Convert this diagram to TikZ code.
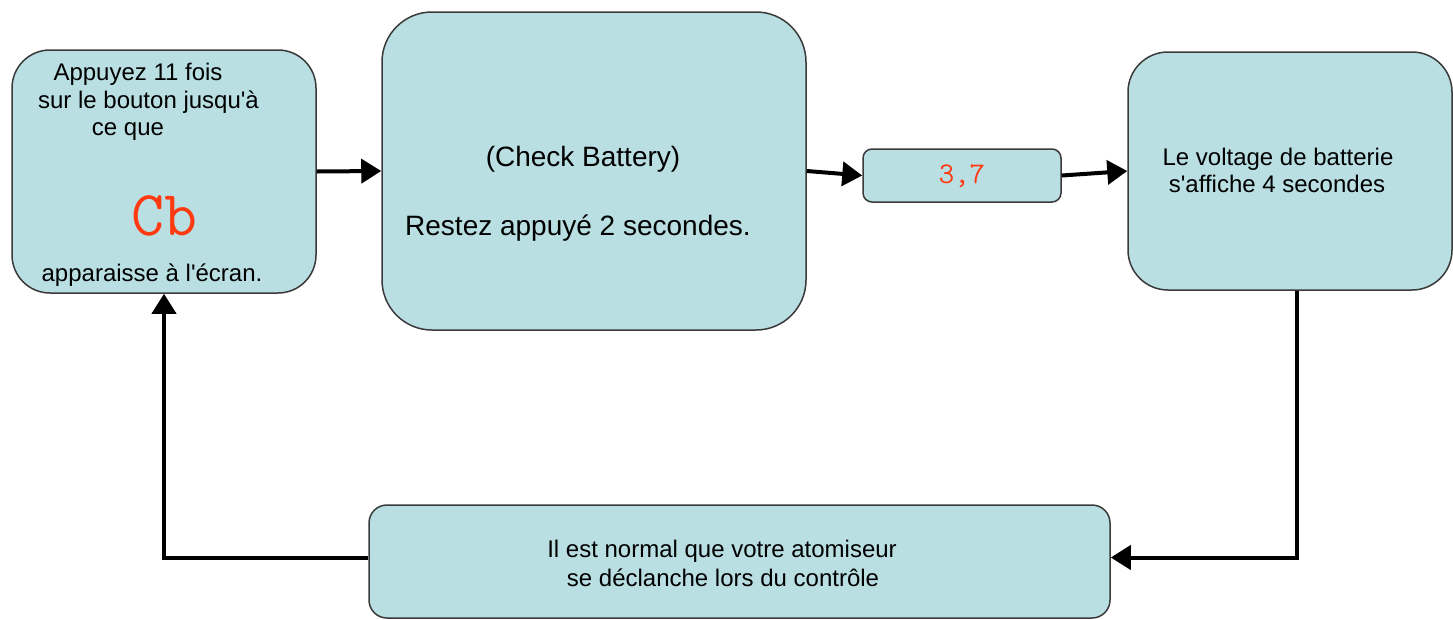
\documentclass[tikz,border=0pt]{standalone}
\usepackage{fontspec}
\setmainfont{Liberation Sans}
\usetikzlibrary{arrows.meta}
\definecolor{boxfill}{HTML}{B9DFE3}
\definecolor{boxline}{HTML}{3A3A3A}
\definecolor{redtxt}{HTML}{FF3A10}
\newcommand{\sq}{\XeTeXglyph\XeTeXglyphindex "quotesingle"\relax}
\begin{document}
\begin{tikzpicture}[x=1pt,y=-1pt,
  box/.style={draw=boxline, line width=1.5pt, fill=boxfill, inner sep=0pt},
  txt/.style={anchor=base, inner sep=0pt, font=\fontsize{24}{28}\selectfont},
  bigtxt/.style={anchor=base, inner sep=0pt, font=\fontsize{28}{32}\selectfont},
  arr/.style={line width=4pt, -{Triangle[length=20pt,width=24pt]}}]
\useasboundingbox (0,0) rectangle (1453,619);
% boxes
\node[box, rounded corners=38pt, minimum width=304pt, minimum height=243pt] (A) at (164,171.5) {};
\node[box, rounded corners=50pt, minimum width=424pt, minimum height=318pt] (B) at (594,171) {};
\node[box, rounded corners=9pt, minimum width=198pt, minimum height=53pt] (C) at (962,175.5) {};
\node[box, rounded corners=40pt, minimum width=324pt, minimum height=238pt] (D) at (1290,171) {};
\node[box, rounded corners=18pt, minimum width=741pt, minimum height=113pt] (E) at (739.5,561.5) {};
% texts
\node[txt] (a1) at (138,80) {Appuyez 11 fois};
\node[txt] (a2) at (148.5,108) {sur le bouton jusqu\sq à};
\node[txt] (a3) at (128,135) {ce que};
\node[anchor=base, inner sep=0pt, text=redtxt, font=\ttfamily\fontsize{64}{68}\selectfont] (a4) at (164,235) {Cb};
\node[txt] (a5) at (152,281) {apparaisse à l\sq écran.};
\node[bigtxt] (b1) at (583,166) {(Check Battery)};
\node[bigtxt, anchor=base west] (b2) at (405,235) {Restez appuyé 2 secondes.};
\node[anchor=base, inner sep=0pt, text=redtxt, font=\ttfamily\fontsize{30}{34}\selectfont] (c1) at (962,183) {3,7};
\node[txt] (d1) at (1278,165) {Le voltage de batterie};
\node[txt] (d2) at (1277,192) {s\sq affiche 4 secondes};
\node[txt] (e1) at (722,557) {Il est normal que votre atomiseur};
\node[txt] (e2) at (723,586) {se déclanche lors du contrôle};
% connectors
\draw[arr] (A.east) -- (B.west);
\draw[arr] (B.east) -- (C.west);
\draw[arr] (C.east) -- (D.west);
\draw[arr] ([xshift=7pt]D.south) |- ([yshift=4pt]E.east);
\draw[arr] ([yshift=4pt]E.west) -| (A.south);
\end{tikzpicture}
\end{document}
